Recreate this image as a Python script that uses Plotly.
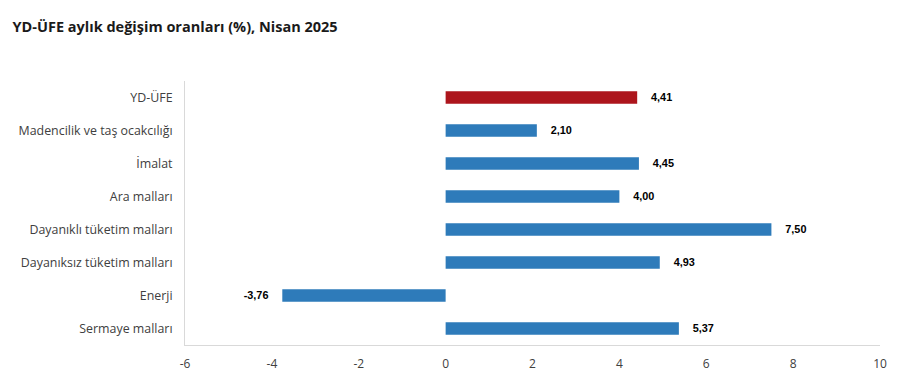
import plotly.graph_objects as go

categories = ["YD-ÜFE", "Madencilik ve taş ocakcılığı", "İmalat", "Ara malları",
              "Dayanıklı tüketim malları", "Dayanıksız tüketim malları", "Enerji", "Sermaye malları"]
values = [4.41, 2.10, 4.45, 4.00, 7.50, 4.93, -3.76, 5.37]
labels = ["4,41", "2,10", "4,45", "4,00", "7,50", "4,93", "-3,76", "5,37"]
colors = ["#AD151C"] + ["#2E7BBA"] * 7
tick_vals = [-6, -4, -2, 0, 2, 4, 6, 8, 10]

padded = ["\u2002\u2002" + t if v >= 0 else t + "\u2002\u2002" for t, v in zip(labels, values)]

fig = go.Figure(go.Bar(
    x=values, y=categories, orientation="h",
    marker=dict(color=colors, line=dict(width=0)),
    width=0.38,
    text=padded, textposition="outside",
    textfont=dict(family="Liberation Sans, Arial", size=13, color="#000000", weight="bold"),
    cliponaxis=False,
))

fig.update_layout(
    width=906, height=384,
    margin=dict(l=177, r=34, t=73, b=47),
    paper_bgcolor="white", plot_bgcolor="white",
    title=dict(text="<b>YD-ÜFE aylık değişim oranları (%), Nisan 2025</b>",
               x=0.005, xanchor="left", y=0.95, yanchor="middle",
               font=dict(family="Open Sans", size=14.5, color="#1a1a1a")),
    showlegend=False,
    bargap=0.6,
)
fig.update_xaxes(range=[-6, 10], tickvals=tick_vals, ticktext=[str(v) for v in tick_vals],
                 showgrid=False, zeroline=False, showline=True, linecolor="#d9d9d9", linewidth=1,
                 ticks="", tickfont=dict(family="Open Sans", size=12, color="#404040"),
                 ticklabelstandoff=8)
fig.update_yaxes(autorange="reversed", showgrid=False, zeroline=False, showline=True,
                 linecolor="#d9d9d9", linewidth=1, ticks="",
                 tickfont=dict(family="Open Sans", size=12.4, color="#404040"),
                 ticklabelstandoff=9)

fig.write_html("out.html")
